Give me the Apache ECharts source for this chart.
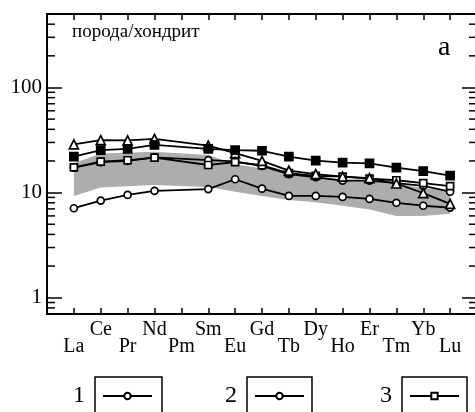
<!DOCTYPE html>
<html><head><meta charset="utf-8">
<script src="https://cdn.jsdelivr.net/npm/echarts@6/dist/echarts.min.js"></script>
<style>html,body{margin:0;padding:0;background:#fff}#c{width:475px;height:412px}</style>
</head><body><div id="c"></div>
<script>
// ---- data ----
const elements = ['La','Ce','Pr','Nd','Pm','Sm','Eu','Gd','Tb','Dy','Ho','Er','Tm','Yb','Lu'];
const series1 = [7.1, 8.4, 9.5, 10.4, null, 10.8, 13.4, 10.9, 9.3, 9.3, 9.1, 8.7, 8.0, 7.5, 7.2];       // open circles, lowest
const series2 = [17.3, 19.5, 20.0, 21.6, null, 20.4, 19.8, 17.9, 15.0, 14.0, 13.0, 13.0, 12.3, 11.6, 10.2]; // open circles
const series3 = [17.4, 19.7, 20.3, 21.5, null, 18.3, 19.5, 18.2, 15.3, 14.4, 14.2, 13.6, 13.1, 12.3, 11.5]; // open squares
const series4 = [28.8, 31.5, 31.4, 32.5, null, 28.0, 23.7, 20.0, 16.2, 15.0, 14.2, 13.7, 12.2, 9.9, 7.8];  // open triangles
const series5 = [22.0, 25.4, 26.0, 28.4, null, 26.0, 25.4, 25.0, 22.0, 20.1, 19.3, 19.0, 17.3, 16.0, 14.5]; // filled squares
const bandLow  = [9.3, 11.2, 11.5, 11.8, null, 11.3, 10.2, 9.3, 8.5, 8.1, 7.5, 6.9, 6.0, 6.0, 6.3];
const bandHigh = [19.0, 23.6, 24.0, 24.5, null, 22.8, 18.5, 17.0, 15.5, 14.0, 13.0, 12.8, 12.3, 11.0, 10.5];
const yTickLabels = [1, 10, 100];
const yMinorTicks = [0.8, 0.9, 2, 3, 4, 5, 6, 7, 8, 9, 20, 30, 40, 50, 60, 70, 80, 90, 200, 300, 400];
const legendNames = ['1', '2', '3'];
const titleText = 'порода/хондрит';
const panelText = 'a';
const xMin = 0, xMax = 16, yMin = 0.7, yMax = 500;

const FONT = 'Liberation Serif';
const pairs = arr => arr.map((v, i) => v == null ? null : [i + 1, v]).filter(Boolean);

const chart = echarts.init(document.getElementById('c'), null, {renderer: 'canvas'});

function lineSeries(name, arr, symbol, size, filled) {
  return {
    name, type: 'line', data: pairs(arr), symbol, symbolSize: size,
    lineStyle: {color: '#000', width: 1.8},
    itemStyle: {color: filled ? '#000' : '#fff', borderColor: '#000', borderWidth: 1.7},
    z: 3
  };
}

const axisLineStyle = {show: true, onZero: false, lineStyle: {color: '#000', width: 2}};
const yLabelFmt = v => yTickLabels.some(t => Math.abs(t - v) < 1e-6 * t) ? String(Math.round(v)) : '';

chart.setOption({
  animation: false,
  backgroundColor: '#fff',
  title: [
    {text: titleText, left: 72, top: 23, padding: 0,
     textStyle: {fontFamily: FONT, fontSize: 19, fontWeight: 'normal', color: '#000'}},
    {text: panelText, left: 438, top: 34, padding: 0,
     textStyle: {fontFamily: FONT, fontSize: 28, fontWeight: 'normal', color: '#000'}}
  ],
  grid: {left: 47, right: -2, top: 14, bottom: 98, containLabel: false, outerBoundsMode: 'none'},
  xAxis: [
    {type: 'value', min: xMin, max: xMax, interval: 1, position: 'bottom',
     axisLine: axisLineStyle, splitLine: {show: false},
     axisTick: {show: true, inside: true, length: 6, lineStyle: {color: '#000', width: 1.5}},
     axisLabel: {show: true, margin: 7, color: '#000', fontFamily: FONT, fontSize: 20, lineHeight: 17,
       formatter: v => {
         const n = elements[v - 1];
         if (!n) return '';
         return (v % 2 === 0) ? (n + '\n ') : (' \n' + n);
       }}},
    {type: 'value', min: xMin, max: xMax, interval: 1, position: 'top',
     axisLine: axisLineStyle, splitLine: {show: false},
     axisTick: {show: true, inside: true, length: 6, lineStyle: {color: '#000', width: 1.5}},
     axisLabel: {show: false}}
  ],
  yAxis: [
    {type: 'log', logBase: 10, min: yMin, max: yMax, position: 'left',
     axisLine: axisLineStyle, splitLine: {show: false}, minorTick: {show: false},
     axisTick: {show: true, inside: true, length: 15, lineStyle: {color: '#000', width: 1.5}},
     axisLabel: {show: true, margin: 5, color: '#000', fontFamily: FONT, fontSize: 21, formatter: yLabelFmt}},
    {type: 'log', logBase: 10, min: yMin, max: yMax, position: 'right',
     axisLine: axisLineStyle, splitLine: {show: false}, minorTick: {show: false},
     axisTick: {show: true, inside: true, length: 15, lineStyle: {color: '#000', width: 1.5}},
     axisLabel: {show: false}}
  ],
  legend: legendNames.map((nm, i) => ({
    data: [nm], left: [73, 225, 380][i], top: 384, padding: 0, align: 'right',
    itemWidth: 49, itemHeight: 8, selectedMode: false,
    textStyle: {fontFamily: FONT, fontSize: 24, lineHeight: 24, color: '#000', padding: [0, 13, 0, 0]}
  })),
  series: [
    {name: 'band', type: 'custom', xAxisIndex: 0, yAxisIndex: 0, z: 1,
     data: elements.map((e, i) => [i + 1, bandLow[i], bandHigh[i]]).filter(d => d[1] != null),
     encode: {x: 0, y: [1, 2]},
     renderItem: (params, api) => {
       if (params.dataIndexInside !== 0) return null;
       const n = params.dataInsideLength;
       const top = [], bot = [];
       for (let i = 0; i < n; i++) {
         const x = api.value(0, i);
         top.push(api.coord([x, api.value(2, i)]));
         bot.push(api.coord([x, api.value(1, i)]));
       }
       return {type: 'polygon', shape: {points: top.concat(bot.reverse())},
               style: {fill: '#adadad', stroke: null}};
     }},
    lineSeries('1', series1, 'circle', 7, false),
    lineSeries('2', series2, 'circle', 7, false),
    lineSeries('3', series3, 'rect', 7, false),
    lineSeries('4', series4, 'triangle', 9, false),
    lineSeries('5', series5, 'rect', 8, true)
  ]
});

// minor log ticks + legend frames, positioned through the axes' own scales
const gx0 = chart.convertToPixel({xAxisIndex: 0}, xMin);
const gx1 = chart.convertToPixel({xAxisIndex: 0}, xMax);
const g = [];
yMinorTicks.forEach(v => {
  const y = chart.convertToPixel({yAxisIndex: 0}, v);
  g.push({type: 'line', shape: {x1: gx0, y1: y, x2: gx0 + 8, y2: y}, style: {stroke: '#000', lineWidth: 1.5}, z: 10});
  g.push({type: 'line', shape: {x1: gx1 - 8, y1: y, x2: gx1, y2: y}, style: {stroke: '#000', lineWidth: 1.5}, z: 10});
});
[[95, 67], [247, 65], [402, 65]].forEach(([x, w]) => {
  g.push({type: 'rect', shape: {x: x, y: 377, width: w, height: 60}, style: {fill: 'none', stroke: '#000', lineWidth: 1.5}, z: 10});
});
chart.setOption({graphic: g});
</script></body></html>
